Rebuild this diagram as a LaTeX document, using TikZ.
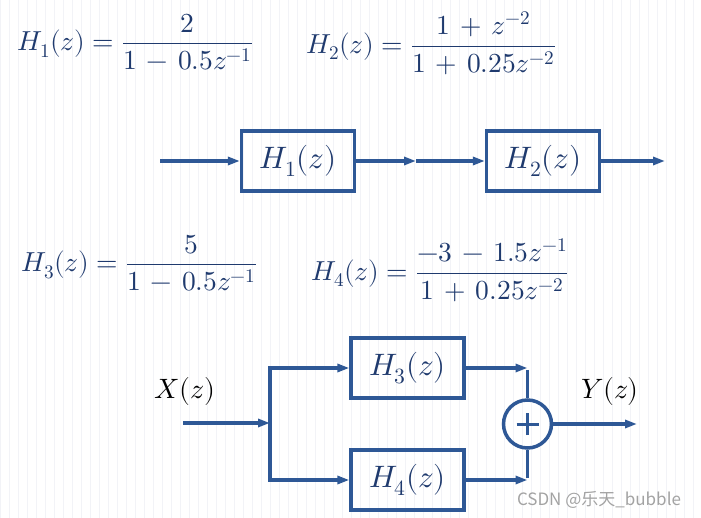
\documentclass[tikz,border=0pt]{standalone}
\usepackage{amsmath}
\usepackage{fontspec}
\usepackage{unicode-math}
\newfontfamily\cjkwm{Noto Sans CJK SC}
\usetikzlibrary{arrows.meta}
\definecolor{eqblue}{HTML}{1F3A6E}
\definecolor{lnblue}{HTML}{2E5896}
\definecolor{gridc}{HTML}{F2F3F7}
\definecolor{wmgray}{HTML}{A3A3A3}
\newcommand{\eqspacing}{\medmuskip=6.5mu plus 2mu minus 4mu\thickmuskip=5mu plus 5mu}
\tikzset{
  eq/.style={anchor=west, inner sep=0pt, text=eqblue, font=\fontsize{27.5}{32}\selectfont\eqspacing},
  blockbox/.style={draw=lnblue, line width=3.2pt, minimum width=113pt, minimum height=60pt, inner sep=0pt, text=eqblue, font=\fontsize{31}{35}\selectfont},
  sig/.style={line width=3.5pt, draw=lnblue},
  arr/.style={sig, -{Triangle[length=12pt,width=8pt]}},
  lbl/.style={inner sep=0pt, text=black, font=\fontsize{28}{32}\selectfont},
  sumc/.style={circle, draw=lnblue, line width=3.5pt, minimum size=48pt, inner sep=0pt},
}
\begin{document}
\begin{tikzpicture}[x=1pt,y=-1pt]
\useasboundingbox[fill=white] (0,0) rectangle (701,518);
\draw[gridc, line width=0.6pt, step=9] (0,0) grid (701,518);

% equations
\node[eq] (e1) at (17,42) {$H_1(z)=\dfrac{2}{1-0.5z^{-1}}$};
\node[eq] (e2) at (306,43) {$H_2(z)=\dfrac{1+z^{-2}}{1+0.25z^{-2}}$};
\node[eq] (e3) at (21,263) {$H_3(z)=\dfrac{5}{1-0.5z^{-1}}$};
\node[eq] (e4) at (311,270) {$H_4(z)=\dfrac{-3-1.5z^{-1}}{1+0.25z^{-2}}$};

% cascade
\node[blockbox] (b1) at (298,161) {$H_1(z)$};
\node[blockbox] (b2) at (543,161) {$H_2(z)$};
\coordinate (in1) at (160,161);
\coordinate (mid) at (416,161);
\coordinate (out1) at (665,161);
\draw[arr] (in1) -- (b1.west);
\draw[arr] (b1.east) -- (mid);
\draw[arr] (mid) -- (b2.west);
\draw[arr] (b2.east) -- (out1);

% parallel
\node[blockbox] (b3) at (407.5,368) {$H_3(z)$};
\node[blockbox] (b4) at (407.5,480) {$H_4(z)$};
\node[sumc] (s) at (527.5,424) {};
\draw[line width=3pt, lnblue] ([xshift=-11pt]s.center) -- ([xshift=11pt]s.center)
  ([yshift=-11pt]s.center) -- ([yshift=11pt]s.center);
\coordinate (in2) at (183,423);
\coordinate (j) at (270,423);
\coordinate (c3) at (527.5,368);
\coordinate (c4) at (527.5,480);
\coordinate (out2) at (637,424);
\draw[arr] (in2) -- (j);
\draw[arr] (j) |- (b3.west);
\draw[arr] (j) |- (b4.west);
\draw[arr] (b3.east) -- (c3);
\draw[arr] (b4.east) -- (c4);
\draw[sig] ([yshift=-1.75pt]c3) -- (s.north);
\draw[sig] ([yshift=1.75pt]c4) -- (s.south);
\draw[arr] (s.east) -- (out2);

\node[lbl] (x) at (185,391) {$X(z)$};
\node[lbl] (y) at (610,391) {$Y(z)$};

\node[inner sep=0pt, text=wmgray, font=\cjkwm\fontsize{17}{20}\selectfont] (wm) at (599,500) {CSDN @乐天\_bubble};
\end{tikzpicture}
\end{document}
